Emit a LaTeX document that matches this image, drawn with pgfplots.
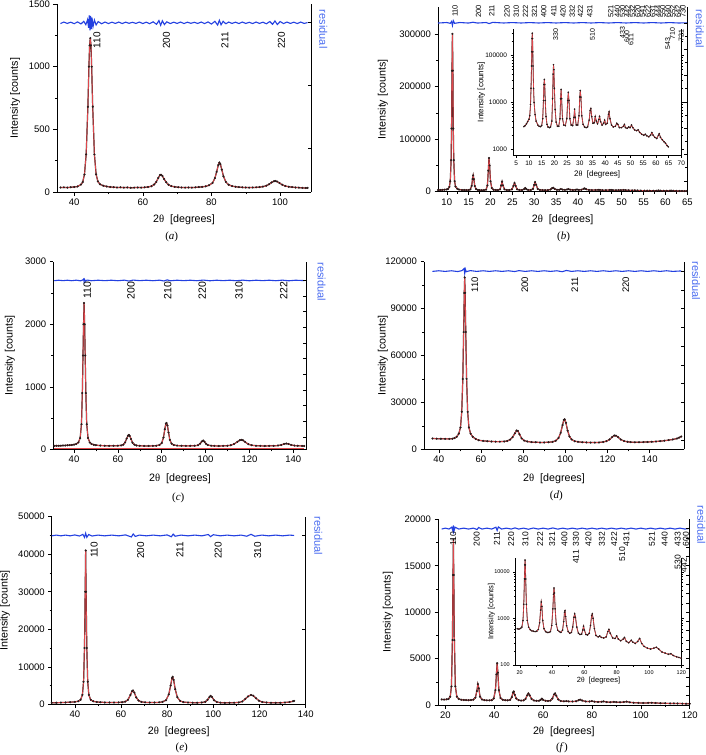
\documentclass[border=0pt]{standalone}
\usepackage{fontspec}
\setmainfont{Liberation Sans}
\newfontfamily\serifont{Liberation Serif}
\usepackage{pgfplots}
\usepackage{pgfplotstable}
\pgfplotsset{compat=1.18}

\definecolor{obs}{HTML}{2A1A1A}
\definecolor{fit}{HTML}{E0474C}
\definecolor{resblue}{HTML}{2340E0}
\definecolor{reslab}{HTML}{4A6CF0}
\newcommand{\fs}[1]{\fontsize{#1}{#1}\selectfont}

\pgfplotsset{
  panel/.style={
    scale only axis, anchor=south west, clip=false,
    axis x line*=bottom, axis y line*=left,
    axis line style={-, black, line width=0.7pt},
    tick align=outside, major tick length=3.5pt, minor tick length=2pt,
    tick style={black, line width=0.5pt},
    tick label style={font=\fs{9.5}},
    label style={font=\fs{10.7}},
    scaled ticks=false,
    /pgf/number format/fixed,
    /pgf/number format/1000 sep={},
    /pgf/number format/assume math mode=true,
    minor x tick num=1, minor y tick num=1,
    ylabel={Intensity [counts]},
    xlabel={2{\serifont θ}\ \ [degrees]},
  },
  rside/.style={
    scale only axis, anchor=south west,
    axis x line*=bottom, x axis line style={draw=none}, xtick=\empty,
    axis y line*=right,
    axis line style={-, black, line width=0.7pt},
    tick align=inside, major tick length=3.5pt, minor tick length=2pt,
    tick style={black, line width=0.5pt},
    scaled ticks=false, yticklabels={}, xmin=0, xmax=1,
  },
  logbox/.style={
    scale only axis, anchor=south west, clip=false,
    axis x line*=bottom, axis y line*=box,
    axis line style={-, black, line width=0.5pt},
    tick align=outside, major tick length=2.5pt, minor tick length=1.5pt,
    tick style={black, line width=0.4pt},
    /pgf/number format/fixed,
    /pgf/number format/1000 sep={},
    /pgf/number format/assume math mode=true,
    ylabel={Intensity [counts]},
    xlabel={2{\serifont θ}\ \ [degrees]},
  },
  obsline/.style={color=obs, line width=1.2pt},
  fitline/.style={color=fit, line width=0.8pt},
  obsmark/.style={only marks, mark=*, mark size=0.85pt, color=obs},
  resid/.style={color=resblue, line width=1.1pt},
}
\tikzset{
  hkl/.style={rotate=90, anchor=east, inner sep=0pt},
  hklb/.style={hkl, font=\fs{7.5}},
  hklbb/.style={hkl, font=\fs{7}},
  hklc/.style={hkl, font=\fs{10.5}},
  hkld/.style={hkl, font=\fs{9.5}},
  hkle/.style={hkl, font=\fs{10}},
  hklf/.style={hkl, font=\fs{8.5}},
  reslabel/.style={rotate=-90, anchor=center, text=reslab, font=\fs{11}},
  capt/.style={anchor=center, font=\serifont\fs{11}},
  rline/.style={black, line width=0.7pt},
}

% ---------- panel (a)
\pgfplotstableread{
x y
36 36
37 37
38 35
39 38
40 40
41 44
42 60
42.5 80
43 140
43.5 300
44 680
44.3 1000
44.5 1170
44.7 1228
44.9 1170
45.1 1000
45.4 680
45.9 300
46.4 140
46.9 85
47.5 62
48.5 50
49.5 44
50.5 40
51.5 38
52.5 36
53.5 37
54.5 35
55.5 36
56.5 34
57.5 35
58.5 36
59.5 35
60.5 37
61.5 40
62.5 46
63.3 60
63.9 80
64.5 112
65.0 135
65.3 138
65.7 128
66.2 104
66.8 78
67.5 58
68.3 47
69.3 41
70.3 38
71.3 36
72.3 35
73.3 36
74.3 35
75.3 37
76.3 39
77.3 41
78.3 45
79.3 54
80.3 72
81.0 110
81.5 160
82.0 215
82.3 235
82.6 222
83.0 180
83.5 125
84.2 80
85.0 58
86.0 47
87.0 42
88.0 39
89.0 37
90.0 36
91.0 35
92.0 36
93.0 37
94.0 39
95.0 43
96.0 50
96.8 62
97.5 76
98.2 86
98.6 88
99.1 84
99.8 72
100.6 58
101.5 48
102.5 42
103.5 39
104.5 36
105.5 35
106.5 33
107.5 32
108 33
}\dataA
\pgfplotstableread{
x y
36 1344
37 1356
38 1345
39 1355
40 1343
41 1357
42 1341
42.8 1362
43.4 1335
43.9 1375
44.2 1310
44.4 1410
44.6 1290
44.8 1405
45.0 1300
45.2 1390
45.5 1320
45.9 1372
46.4 1333
47 1360
48 1342
49 1356
50 1344
51 1355
52 1345
53 1356
54 1344
55 1355
56 1346
57 1354
58 1345
59 1356
60 1344
61 1355
62 1343
63 1358
64 1338
64.7 1368
65.2 1330
65.7 1366
66.3 1336
67 1358
68 1344
69 1355
70 1345
71 1356
72 1344
73 1355
74 1346
75 1354
76 1345
77 1356
78 1344
79 1357
80 1340
81 1362
81.8 1332
82.3 1370
82.8 1334
83.4 1362
84.2 1342
85 1356
86 1345
87 1355
88 1344
89 1356
90 1345
91 1354
92 1344
93 1356
94 1345
95 1355
96 1342
97 1360
97.8 1338
98.5 1365
99.2 1336
100 1360
101 1344
102 1356
103 1345
104 1355
105 1344
106 1356
107 1345
108 1352
}\resA

% ---------- panel (b)
\pgfplotstableread{
x y
8.0 3050
8.5 3200
9.0 3500
9.5 3900
10.0 4400
10.3 5200
10.6 9000
10.8 20000
11.0 60000
11.1 120000
11.2 230000
11.3 300000
11.4 230000
11.5 120000
11.6 60000
11.8 20000
12.0 10000
12.4 5500
12.8 4000
13.5 3300
14.0 3100
14.5 3050
15.0 3200
15.4 4500
15.7 11000
15.9 24000
16.05 31000
16.2 24000
16.4 11000
16.7 5000
17.1 3400
17.5 3000
18.0 2900
18.5 3000
19.0 4000
19.3 12000
19.5 40000
19.65 64000
19.8 50000
20.0 20000
20.3 7000
20.7 3800
21.2 3100
21.7 3100
22.2 4500
22.45 12000
22.65 19000
22.85 12000
23.2 4500
23.7 3300
24.3 3200
24.9 4500
25.25 11000
25.5 16500
25.75 11000
26.1 4500
26.6 3300
27.2 3200
27.7 4800
27.95 7200
28.2 4800
28.6 3300
29.2 3300
29.7 5200
30.0 13000
30.2 18000
30.45 13000
30.8 5200
31.3 3400
31.9 3000
32.5 2900
33.1 3000
33.7 4200
34.1 6800
34.35 7400
34.7 5000
35.2 3600
35.7 3700
36.1 5000
36.5 4000
37.0 3500
37.5 4300
37.8 5000
38.2 3900
38.8 3300
39.4 3600
39.8 4200
40.2 3400
40.8 3600
41.3 5600
41.55 6300
41.9 4500
42.5 3300
43.2 3000
44.0 3100
44.6 3600
45.0 3400
45.6 2900
46.4 2900
47.2 3100
47.6 3400
48.0 2900
48.7 2800
49.3 3000
49.8 2900
50.4 3300
50.9 2900
51.6 2600
52.4 2500
53.0 2600
53.6 2300
54.4 2100
55.2 2000
55.8 2100
56.4 1950
57.2 1850
57.9 2000
58.4 2280
58.9 2000
59.6 1800
60.3 1700
61.0 2000
61.3 2150
61.8 1800
62.5 1600
63.2 1450
63.8 1350
64.4 1200
64.9 1130
}\dataB
\pgfplotstableread{
x y
8 320500
10 321500
10.8 320000
11.1 323500
11.3 316000
11.5 325000
11.8 320000
13 321500
15 320500
16 322000
17 320500
19 321500
19.7 319500
20.5 321800
23 320600
25 321400
27 320600
29 321400
31 320600
33 321400
35 320600
37 321400
39 320600
41 321400
43 320600
45 321400
47 320600
49 321400
51 320600
53 321400
55 320600
57 321400
59 320600
61 321400
63 320600
65 321000
}\resB

% ---------- panel (c)
\pgfplotstableread{
x y
31 55
32 56
33 57
34 58
35 60
36 62
37 64
38 66
39 70
40 75
41 85
42 110
42.8 180
43.4 400
43.8 900
44.1 1500
44.35 2000
44.6 2340
44.85 2000
45.1 1500
45.4 900
45.8 400
46.4 180
47.2 110
48 85
49 72
50 66
52 60
54 58
56 56
58 56
60 58
61.5 62
62.5 75
63.3 110
64 170
64.6 215
65 230
65.4 215
66 165
66.7 105
67.5 75
68.5 62
70 56
72 54
74 54
76 55
77.5 58
79 70
80 100
80.8 190
81.4 320
81.9 410
82.2 420
82.6 380
83.1 270
83.7 150
84.5 90
85.5 68
87 60
89 56
91 55
93 55
95 57
96.5 65
97.5 90
98.3 125
98.9 140
99.5 120
100.2 88
101 68
102.5 58
104 55
106 54
108 55
110 58
111.5 65
113 85
114.5 120
115.6 145
116.3 152
117 145
118 118
119.5 82
121 65
123 57
125 55
127 54
129 55
131 56
133 60
134.5 70
135.8 85
136.8 92
137.8 86
139 70
140.5 60
142 56
144 54
145 53
}\dataC
\pgfplotstableread{
x y
31 2696
33 2704
35 2697
37 2704
39 2696
41 2705
43 2694
44.0 2708
44.4 2722
44.6 2682
44.8 2716
45.2 2690
46 2706
48 2696
51 2704
54 2697
57 2704
60 2696
63 2705
65 2691
67 2706
70 2697
73 2704
76 2696
79 2705
81 2692
82.5 2709
84 2695
87 2704
90 2697
93 2704
96 2696
99 2706
102 2695
105 2704
108 2697
111 2704
114 2696
117 2705
120 2695
123 2704
126 2697
129 2704
132 2696
135 2705
138 2695
141 2704
145 2698
}\resC

% ---------- panel (d)
\pgfplotstableread{
x y
37 6900
39 6800
41 6750
43 6700
45 6650
46.5 6800
47.5 7200
48.5 8000
49.5 10000
50.3 14000
50.9 24000
51.4 45000
51.8 75000
52.1 100000
52.3 110000
52.5 100000
52.8 75000
53.2 45000
53.7 24000
54.3 14000
55.1 10000
56.1 8000
57.5 6600
59 5800
61 5400
63 5200
65 5000
67 4900
69 4900
71 5000
72.5 5300
73.8 6200
75 7800
76.1 10200
76.9 12000
77.5 11800
78.3 9600
79.3 7000
80.5 5600
82 5000
84 4600
86 4500
88 4400
90 4400
92 4500
94 4800
95.5 5500
96.8 7200
97.8 10500
98.7 15500
99.3 18800
99.7 19200
100.3 17000
101.1 12000
102 8200
103 6300
104.5 5200
106 4800
108 4500
110 4400
112 4300
114 4300
116 4400
118 4700
119.5 5200
121 6300
122.2 7800
123.2 8800
124 8700
125 7800
126.3 6300
127.8 5300
129.5 4800
131 4600
133 4500
135 4500
137 4600
139 4700
141 4800
143 5000
145 5200
147 5500
149 5900
151 6300
153 6900
154 7500
155 8200
}\dataD
\pgfplotstableread{
x y
37 113800
40 114200
43 113800
46 114200
49 113700
51 114300
52.0 115600
52.3 112500
52.6 115200
53 113600
55 114300
58 113800
61 114200
64 113800
67 114200
70 113800
73 114200
76 113700
78 114300
81 113800
84 114200
87 113800
90 114200
93 113800
96 114200
98.5 113600
100.5 114400
103 113800
106 114200
109 113800
112 114200
115 113800
118 114200
121 113800
124 114200
127 113800
130 114200
133 113800
136 114200
139 113800
142 114200
145 113800
148 114200
151 113800
155 114100
}\resD

% ---------- panel (e)
\pgfplotstableread{
x y
30 400
32 430
34 460
36 500
38 560
40 650
41.5 800
42.5 1200
43.3 2500
43.8 6000
44.2 15000
44.5 30000
44.7 41000
44.9 30000
45.2 15000
45.6 6000
46.1 2500
46.9 1200
48 800
49.5 620
51 550
53 500
55 480
57 470
59 500
60.5 550
61.8 700
63 1200
64.1 2500
64.8 3500
65.2 3700
65.8 3100
66.6 1800
67.6 1000
68.8 650
70.5 520
72.5 480
74.5 470
76.5 520
78 650
79.5 1100
80.7 2600
81.5 5000
82.1 7000
82.4 7300
82.8 6500
83.5 4000
84.4 1900
85.6 900
87 600
89 480
91 440
93 430
95 480
96.5 650
97.5 1200
98.3 1900
98.8 2250
99.4 1950
100.3 1100
101.5 600
103 450
105 400
107 400
109 420
111 500
112.5 750
113.8 1400
115 2100
116.3 2500
117.3 2300
118.5 1600
119.8 950
121.2 620
123 480
125 420
127 400
129 420
131 480
133 600
134.5 800
135 900
}\dataE
\pgfplotstableread{
x y
30 44900
32 45100
34 44900
36 45100
38 44900
40 45150
42 44850
43.5 45300
44.2 44500
44.7 45600
45.2 44500
46 45250
47.5 44850
50 45100
53 44900
56 45100
59 44900
62 45150
64.5 44600
65.3 45400
66.2 44750
68 45100
71 44900
74 45100
77 44900
80 45150
81.8 44650
82.6 45350
83.5 44800
86 45100
89 44900
92 45100
95 44900
97.8 45250
98.8 44700
100 45200
103 44900
106 45100
109 44900
112 45100
114.5 44800
116.3 45300
118 44800
121 45100
124 44900
127 45100
130 44900
133 45100
135 45000
}\resE

% ---------- panel (f)
\pgfplotstableread{
x y
18.5 600
19.5 590
20.5 610
21.3 650
22.0 900
22.5 2000
22.9 7000
23.15 14000
23.3 17800
23.45 14000
23.7 7000
24.1 2000
24.7 900
25.5 650
26.5 570
27.5 540
28.5 530
29.5 520
30.5 530
31.5 580
32.3 800
32.9 1500
33.3 2250
33.7 1800
34.2 900
35 600
36 520
37 500
38 500
39 520
39.8 700
40.5 1600
40.9 3300
41.2 4500
41.5 3500
41.9 1600
42.6 750
43.5 560
44.5 520
45.5 500
46.5 560
47.2 850
47.7 1350
48.0 1450
48.4 1100
49 700
50 520
51 480
52 500
52.8 650
53.5 1050
54 1250
54.5 1050
55.3 650
56.3 480
57.3 450
58.3 460
59.0 560
59.5 680
60.0 560
61 450
62 440
63 480
63.8 700
64.5 1150
64.9 1250
65.4 1000
66.2 600
67.2 430
68.5 400
69.5 420
70.5 390
72 380
73.5 400
74.5 520
75.2 580
76 480
77.5 380
79 370
80 420
81 360
82.5 330
84 360
84.8 390
86 320
87.5 300
89 340
90 310
91.5 290
93 320
94.2 370
95.5 290
97 250
99 230
101 220
103 230
104.5 240
106 220
108 190
110 180
112 170
113.5 175
115 160
117 150
118.5 145
120 140
}\dataF
\pgfplotstableread{
x y
18.5 18950
20 19050
21.5 18950
22.6 19150
23.1 18750
23.3 19350
23.5 18700
24 19150
25.5 18950
27.5 19050
29.5 18950
31.5 19050
33 18900
33.6 19120
35 18950
37 19050
39 18950
40.7 19150
41.2 18800
41.7 19180
43 18950
45 19050
47 18950
48.5 19080
50 18950
52 19050
54 18930
56 19060
58 18950
60 19050
62 18950
64 19070
66 18940
68 19050
70 18950
72 19050
74 18950
76 19050
78 18950
80 19050
82 18950
84 19050
86 18950
88 19050
90 18950
92 19050
94 18950
96 19050
98 18950
100 19050
102 18950
104 19050
106 18950
108 19050
110 18950
112 19050
114 18950
116 19050
118 18950
120 19020
}\resF

\begin{document}
\begin{tikzpicture}
\useasboundingbox (0,0) rectangle (706pt,-755pt);

% ===== (a)
\begin{axis}[panel, at={(57pt,-192pt)}, width=254pt, height=188pt,
  xmin=35, xmax=109, ymin=0, ymax=1500,
  xtick={40,60,80,100}, ytick={0,500,1000,1500},
  ylabel style={at={(axis description cs:-0.165,0.5)}, anchor=center},
  xlabel style={at={(axis description cs:0.5,-0.149)}, anchor=center}]
\addplot[obsline] table {\dataA};
\addplot[fitline] table {\dataA};
\addplot[obsmark] table {\dataA};
\addplot[resid] table {\resA};
\draw[rline] (rel axis cs:1,0) -- (rel axis cs:1,1);
\node[hkle] at (axis cs:46.6,1277) {110};
\node[hkle] at (axis cs:66.9,1277) {200};
\node[hkle] at (axis cs:83.9,1277) {211};
\node[hkle] at (axis cs:100.4,1277) {220};
\node[reslabel] at (axis description cs:1.048,0.866) {residual};
\node[capt] at (axis description cs:0.4516,-0.241) {(\textit{a})};
\end{axis}
\begin{axis}[rside, at={(57pt,-192pt)}, width=254pt, height=188pt,
  ymin=0, ymax=1500, ytick={353,852,1351}]
\end{axis}

% ===== (b)
\begin{axis}[panel, at={(438pt,-191.7pt)}, width=249.3pt, height=184.7pt,
  xmin=8, xmax=65, ymin=0, ymax=351000,
  xtick={10,15,...,65}, ytick={0,100000,200000,300000},
  ylabel style={at={(axis description cs:-0.221,0.5)}, anchor=center},
  xlabel style={at={(axis description cs:0.5,-0.153)}, anchor=center}]
\addplot[obsline] table {\dataB};
\addplot[fitline] table {\dataB};
\addplot[obsmark] table {\dataB};
\addplot[resid] table {\resB};
\draw[rline] (rel axis cs:1,0) -- (rel axis cs:1,1);
\foreach \xx/\lab in {11.9/110, 17.25/200, 20.3/211, 23.8/220, 25.9/310, 28.0/222,
  30.1/321, 32.2/400, 34.5/411, 36.6/420, 38.7/332, 40.6/422, 42.7/431, 47.5/521,
  49.0/440, 50.2/530, 51.4/442, 52.5/532, 53.7/620, 54.8/541, 56.0/622, 57.1/631,
  58.3/444, 59.4/550, 60.6/640, 61.7/552, 62.9/642, 64.0/730}{
  \edef\tmp{\noexpand\node[hklb] at (axis cs:\xx,355100) {\lab};}\tmp
}
\foreach \xx/\yy/\lab in {34.9/310800/330, 43.3/310800/510, 50.2/313300/433,
  51.2/305700/600, 52.1/300000/611, 60.5/292400/543, 61.6/311400/710, 63.6/307600/721}{
  \edef\tmp{\noexpand\node[hklbb] at (axis cs:\xx,\yy) {\lab};}\tmp
}
\node[reslabel] at (axis description cs:1.050,0.88) {residual};
\node[capt] at (axis description cs:0.504,-0.244) {(\textit{b})};
\end{axis}
\begin{axis}[rside, at={(438pt,-191.7pt)}, width=249.3pt, height=184.7pt,
  ymin=0, ymax=351000,
  ytick={20700,70800,120800,170800,220900,270900,320900},
  minor ytick={45750,95800,145800,195850,245900,295900}]
\end{axis}
\begin{axis}[logbox, ymode=log, at={(513pt,-155pt)}, width=168.3pt, height=125.7pt,
  xmin=3.7, xmax=70, ymin=757, ymax=363000,
  xtick={5,10,...,70},
  ytick={1000,10000,100000}, yticklabels={1000,10000,100000},
  minor ytick={2000,3000,4000,5000,6000,7000,8000,9000,20000,30000,40000,50000,60000,70000,80000,90000,200000,300000},
  tick label style={font=\fs{6.5}},
  label style={font=\fs{8}},
  ylabel style={at={(axis description cs:-0.188,0.5)}, anchor=center},
  xlabel style={at={(axis description cs:0.5,-0.154)}, anchor=center}]
\addplot[color=obs, line width=0.8pt] table {\dataB};
\addplot[color=fit, line width=0.6pt] table {\dataB};
\addplot[only marks, mark=*, mark size=0.6pt, color=obs] table {\dataB};
\end{axis}

% ===== (c)
\begin{axis}[panel, at={(53.3pt,-449.3pt)}, width=253.4pt, height=187.6pt,
  xmin=30.56, xmax=146.1, ymin=0, ymax=3000,
  xtick={40,60,...,140}, ytick={0,1000,2000,3000},
  ylabel style={at={(axis description cs:-0.171,0.5)}, anchor=center},
  xlabel style={at={(axis description cs:0.5,-0.155)}, anchor=center}]
\addplot[fit, line width=0.6pt] coordinates {(31,12) (145,12)};
\addplot[obsline] table {\dataC};
\addplot[fitline] table {\dataC};
\addplot[obsmark] table {\dataC};
\addplot[resid] table {\resC};
\draw[rline] (rel axis cs:1,0) -- (rel axis cs:1,1);
\node[hklc] at (axis cs:46.1,2680) {110};
\node[hklc] at (axis cs:66.0,2680) {200};
\node[hklc] at (axis cs:82.7,2680) {210};
\node[hklc] at (axis cs:98.5,2680) {220};
\node[hklc] at (axis cs:115.2,2680) {310};
\node[hklc] at (axis cs:135.6,2680) {222};
\node[reslabel] at (axis description cs:1.059,0.893) {residual};
\node[capt] at (axis description cs:0.493,-0.261) {(\textit{c})};
\end{axis}
\begin{axis}[rside, at={(53.3pt,-449.3pt)}, width=253.4pt, height=187.6pt,
  ymin=0, ymax=3000, ytick={200,450,...,2700}]
\end{axis}

% ===== (d)
\begin{axis}[panel, at={(424pt,-449.3pt)}, width=260pt, height=187.6pt,
  xmin=33, xmax=156.3, ymin=0, ymax=120000,
  xtick={40,60,...,140}, ytick={0,30000,...,120000},
  ylabel style={at={(axis description cs:-0.158,0.5)}, anchor=center},
  xlabel style={at={(axis description cs:0.5,-0.155)}, anchor=center}]
\addplot[obsline] table {\dataD};
\addplot[fitline] table {\dataD};
\addplot[obsmark] table {\dataD};
\addplot[resid] table {\resD};
\draw[rline] (rel axis cs:1,0) -- (rel axis cs:1,1);
\node[hkld] at (axis cs:57.1,110400) {110};
\node[hkld] at (axis cs:80.8,110400) {200};
\node[hkld] at (axis cs:104.5,110400) {211};
\node[hkld] at (axis cs:128.7,110400) {220};
\node[reslabel] at (axis description cs:1.046,0.898) {residual};
\node[capt] at (axis description cs:0.509,-0.249) {(\textit{d})};
\end{axis}
\begin{axis}[rside, at={(424pt,-449.3pt)}, width=260pt, height=187.6pt,
  ymin=0, ymax=120000, ytick={6000,18000,...,114000}]
\end{axis}

% ===== (e)
\begin{axis}[panel, at={(51.7pt,-704.3pt)}, width=254pt, height=187.6pt,
  xmin=30, xmax=140, ymin=0, ymax=50000,
  xtick={40,60,...,140}, ytick={0,10000,...,50000},
  ylabel style={at={(axis description cs:-0.184,0.5)}, anchor=center},
  xlabel style={at={(axis description cs:0.5,-0.146)}, anchor=center}]
\addplot[obsline] table {\dataE};
\addplot[fitline] table {\dataE};
\addplot[obsmark] table {\dataE};
\addplot[resid] table {\resE};
\draw[rline] (rel axis cs:1,0) -- (rel axis cs:1,1);
\node[hkle] at (axis cs:48.4,43340) {110};
\node[hkle] at (axis cs:68.5,43340) {200};
\node[hkle] at (axis cs:85.5,43340) {211};
\node[hkle] at (axis cs:102.1,43340) {220};
\node[hkle] at (axis cs:119.2,43340) {310};
\node[reslabel] at (axis description cs:1.05,0.898) {residual};
\node[capt] at (axis description cs:0.512,-0.2345) {(\textit{e})};
\end{axis}
\begin{axis}[rside, at={(51.7pt,-704.3pt)}, width=254pt, height=187.6pt,
  ymin=0, ymax=50000, ytick={20000,45000}]
\end{axis}

% ===== (f)
\begin{axis}[panel, at={(438pt,-705pt)}, width=251.7pt, height=185.7pt,
  xmin=17, xmax=120, ymin=0, ymax=20000,
  xtick={20,40,...,120}, ytick={0,5000,...,20000},
  ylabel style={at={(axis description cs:-0.199,0.5)}, anchor=center},
  xlabel style={at={(axis description cs:0.5,-0.144)}, anchor=center}]
\addplot[obsline] table {\dataF};
\addplot[fitline] table {\dataF};
\addplot[obsmark] table {\dataF};
\addplot[resid] table {\resF};
\draw[rline] (rel axis cs:1,0) -- (rel axis cs:1,1);
\foreach \xx/\lab in {23.2/110, 32.8/200, 41.1/211, 47.0/220, 52.8/310, 58.8/222,
  63.7/321, 68.7/400, 73.5/330, 78.6/420, 84.1/332, 89.1/422, 94.1/431,
  104.5/521, 109.8/440, 115.1/433, 118.5/600}{
  \edef\tmp{\noexpand\node[hklf] at (axis cs:\xx,18660) {\lab};}\tmp
}
\foreach \xx/\yy/\lab in {73.5/16690/411, 92.4/17050/510, 115.1/16150/530, 117.6/15830/442}{
  \edef\tmp{\noexpand\node[hklf] at (axis cs:\xx,\yy) {\lab};}\tmp
}
\node[reslabel] at (axis description cs:1.046,0.97) {residual};
\node[capt] at (axis description cs:0.492,-0.228) {(\textit{f})};
\end{axis}
\begin{axis}[rside, at={(438pt,-705pt)}, width=251.7pt, height=185.7pt,
  ymin=0, ymax=20000, ytick={0,1000,...,19000}]
\end{axis}
\begin{axis}[logbox, ymode=log, at={(515.7pt,-665pt)}, width=165.6pt, height=106.7pt,
  xmin=17.5, xmax=120, ymin=100, ymax=19400,
  xtick={20,40,...,120}, minor x tick num=1,
  ytick={100,1000,10000}, yticklabels={100,1000,10000},
  tick label style={font=\fs{5.5}},
  label style={font=\fs{7.5}},
  ylabel style={at={(axis description cs:-0.147,0.5)}, anchor=center},
  xlabel style={at={(axis description cs:0.5,-0.15)}, anchor=center}]
\addplot[color=obs, line width=0.8pt] table {\dataF};
\addplot[color=fit, line width=0.6pt] table {\dataF};
\addplot[only marks, mark=*, mark size=0.6pt, color=obs] table {\dataF};
\end{axis}
\end{tikzpicture}
\end{document}
